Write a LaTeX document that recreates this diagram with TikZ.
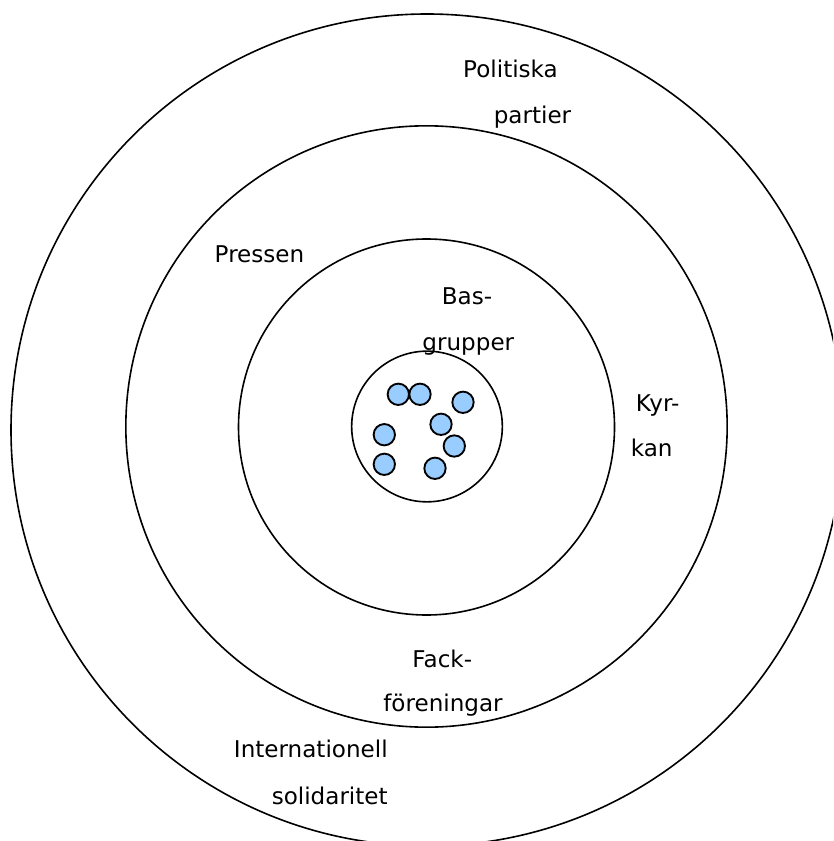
\documentclass[tikz,border=0pt]{standalone}
\usepackage{fontspec}
\setmainfont{DejaVu Sans}
\definecolor{dotblue}{HTML}{99CCFF}
\tikzstyle{ring} = [circle, draw=black, line width=1.2pt, inner sep=0pt]
\tikzstyle{member} = [circle, draw=black, fill=dotblue, line width=1.4pt, inner sep=0pt, minimum size=16pt]
\tikzstyle{ringtext} = [anchor=base, inner sep=0pt, font=\fontsize{17.3}{20}\selectfont]

\begin{document}
\begin{tikzpicture}[x=0.75pt,y=-0.75pt]
			\useasboundingbox (0,0) rectangle (833,841);
			\clip (0,0) rectangle (833,841);
			% rings, outer to inner
			\node (varld) [ring, minimum size=624pt] at (427,430) {};
			\node (samhalle) [ring, minimum size=451pt] at (426.5,426.5) {};
			\node (narhet) [ring, minimum size=282pt] at (426.5,427) {};
			\node (bas) [ring, minimum size=113pt] at (427,426.5) {};
			
			% members of the base group
			\foreach \x/\y [count=\i] in {398.3/394.3, 420/394.3, 463/402.3, 441/424.3, 384.3/434.7, 454.3/446, 384.3/464.3, 435/468.3}
				\node (m\i) [member] at (\x,\y) {};
			
			% texts
			\node (pol1) [ringtext] at (510.5,77.7) {Politiska};
			\node (pol2) [ringtext] at (532.5,123.3) {partier};
			\node (press) [ringtext] at (259.5,262.7) {Pressen};
			\node (bas1) [ringtext] at (467,305) {Bas-};
			\node (bas2) [ringtext] at (468.3,350) {grupper};
			\node (kyr1) [ringtext] at (657.7,411) {Kyr-};
			\node (kyr2) [ringtext] at (651.7,456.7) {kan};
			\node (fack1) [ringtext] at (442.3,667.3) {Fack-};
			\node (fack2) [ringtext] at (443,711.7) {föreningar};
			\node (int1) [ringtext] at (310.8,757.3) {Internationell};
			\node (int2) [ringtext] at (329.7,804.3) {solidaritet};
\end{tikzpicture}
\end{document}
